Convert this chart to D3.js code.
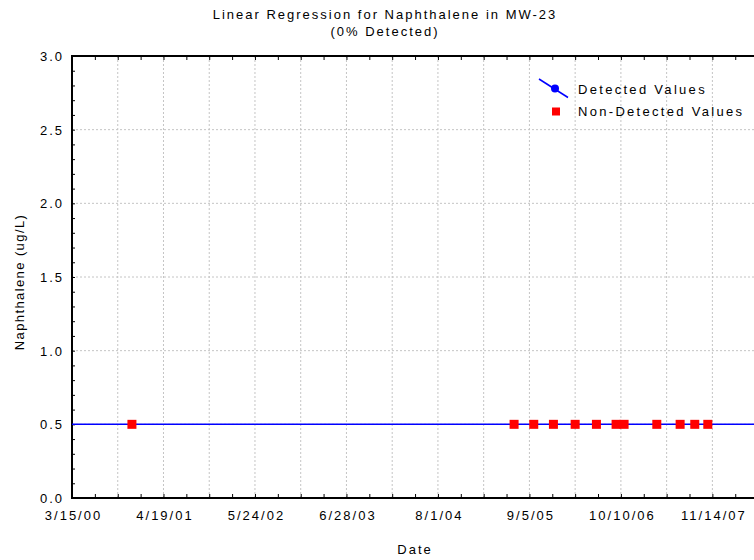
<!DOCTYPE html>
<html>
<head>
<meta charset="utf-8">
<script src="https://cdn.jsdelivr.net/npm/d3@7"></script>
<style>
  body { margin: 0; background: #fff; }
  text { font-family: "Liberation Sans", Arial, sans-serif; font-size: 13px; letter-spacing: 2px; fill: #000; }
</style>
</head>
<body>
<div id="chart"></div>
<script>
// Data
const sampleDates = ["12/2/00", "6/30/05", "9/24/05", "12/19/05", "3/24/06", "6/25/06",
  "9/19/06", "10/24/06", "3/16/07", "6/26/07", "8/29/07", "10/25/07"];
const sampleValues = [0.5, 0.5, 0.5, 0.5, 0.5, 0.5, 0.5, 0.5, 0.5, 0.5, 0.5, 0.5];
const regressionIntercept = 0.5;
const regressionSlope = 0; // per day
const xTickLabels = ["3/15/00", "4/19/01", "5/24/02", "6/28/03", "8/1/04", "9/5/05", "10/10/06", "11/14/07"];
const yTicks = [0, 0.5, 1.0, 1.5, 2.0, 2.5, 3.0];
const legendLabels = ["Detected Values", "Non-Detected Values"];

const WIDTH = 754;
const HEIGHT = 560;
const margin = { top: 56, right: 0, bottom: 62, left: 72 };
const width = WIDTH - margin.left - margin.right;
const height = HEIGHT - margin.top - margin.bottom;

const parse = d3.utcParse("%m/%d/%y");
const start = parse("3/15/00");
const end = parse("5/14/08");

const svg = d3.select("#chart").append("svg")
  .attr("width", WIDTH)
  .attr("height", HEIGHT);

const g = svg.append("g")
  .attr("transform", `translate(${margin.left}, ${margin.top})`);

const x = d3.scaleUtc().domain([start, end]).range([0, width]);
const y = d3.scaleLinear().domain([0, 3]).range([height, 0]);

// gridlines every 200 days, minor ticks every 100 days
const gridDays = d3.range(200, 3000, 200).map(d => d3.utcDay.offset(start, d));
const minorDays = d3.range(100, 3000, 100).map(d => d3.utcDay.offset(start, d));
const yMinor = d3.range(0.1, 3.0, 0.1);

g.append("g").selectAll("line")
  .data(gridDays)
  .join("line")
  .attr("x1", d => x(d)).attr("x2", d => x(d))
  .attr("y1", 0).attr("y2", height)
  .attr("stroke", "#c4c4c4")
  .attr("stroke-dasharray", "2,2");

g.append("g").selectAll("line")
  .data(yTicks.filter(d => d > 0 && d < 3))
  .join("line")
  .attr("x1", 0).attr("x2", width)
  .attr("y1", d => y(d)).attr("y2", d => y(d))
  .attr("stroke", "#c4c4c4")
  .attr("stroke-dasharray", "2,2");

// bottom axis
const xAxis = g.append("g")
  .attr("transform", `translate(0, ${height})`)
  .call(d3.axisBottom(x).tickValues(minorDays).tickSize(-4).tickFormat(""));
xAxis.select(".domain").remove();
xAxis.selectAll("line").attr("stroke", "#000");

const xLab = g.append("g")
  .attr("transform", `translate(0, ${height})`)
  .call(d3.axisBottom(x).tickValues(xTickLabels.map(parse)).tickSize(0).tickPadding(0)
    .tickFormat(d3.utcFormat("%-m/%-d/%y")));
xLab.select(".domain").remove();
xLab.selectAll("text")
  .attr("dy", null)
  .attr("y", 22)
  .attr("dx", 1)
  .attr("font-size", null)
  .attr("font-family", null);

// top axis ticks
const xTop = g.append("g")
  .call(d3.axisTop(x).tickValues(minorDays).tickSize(-4).tickFormat(""));
xTop.select(".domain").remove();
xTop.selectAll("line").attr("stroke", "#000");

// left axis
const yAxisMinor = g.append("g")
  .call(d3.axisLeft(y).tickValues(yMinor).tickSize(-3).tickFormat(""));
yAxisMinor.select(".domain").remove();
yAxisMinor.selectAll("line").attr("stroke", "#000");

const yAxis = g.append("g")
  .call(d3.axisLeft(y).tickValues(yTicks).tickSize(0).tickPadding(8)
    .tickFormat(d3.format(".1f")));
yAxis.select(".domain").remove();
yAxis.selectAll("text")
  .attr("dy", "0.35em")
  .attr("font-size", null)
  .attr("font-family", null);

// frame: left and bottom and top
g.append("path")
  .attr("d", `M${width},0H0V${height}H${width}`)
  .attr("fill", "none")
  .attr("stroke", "#000")
  .attr("stroke-width", 2);

// regression line
const lineData = [start, end].map(d => ({
  date: d,
  value: regressionIntercept + regressionSlope * d3.utcDay.count(start, d)
}));
g.append("path")
  .datum(lineData)
  .attr("d", d3.line().x(d => x(d.date)).y(d => y(d.value)))
  .attr("fill", "none")
  .attr("stroke", "#0000ff")
  .attr("stroke-width", 1.5);

// non-detected points
const points = sampleDates.map((d, i) => ({ date: parse(d), value: sampleValues[i] }));
const sq = 9;
g.append("g").selectAll("rect")
  .data(points)
  .join("rect")
  .attr("x", d => x(d.date) - sq / 2)
  .attr("y", d => y(d.value) - sq / 2)
  .attr("width", sq)
  .attr("height", sq)
  .attr("fill", "#ff0000");

// legend
const legend = svg.append("g").attr("transform", "translate(539, 79)");
legend.append("line")
  .attr("x1", 0).attr("y1", 0).attr("x2", 29).attr("y2", 18.5)
  .attr("stroke", "#0000ff").attr("stroke-width", 1.5);
legend.append("circle")
  .attr("cx", 16).attr("cy", 9.5).attr("r", 4)
  .attr("fill", "#0000ff");
legend.append("rect")
  .attr("x", 13).attr("y", 28.5).attr("width", 8).attr("height", 8)
  .attr("fill", "#ff0000");
legend.selectAll("text.lab")
  .data(legendLabels)
  .join("text")
  .attr("class", "lab")
  .attr("x", 39)
  .attr("y", (d, i) => 15 + i * 22)
  .style("letter-spacing", "2.3px")
  .text(d => d);

// titles
svg.append("text")
  .attr("x", 385).attr("y", 19)
  .attr("text-anchor", "middle")
  .text("Linear Regression for Naphthalene in MW-23");
svg.append("text")
  .attr("x", 385).attr("y", 35.5)
  .attr("text-anchor", "middle")
  .text("(0% Detected)");

svg.append("text")
  .attr("x", 415).attr("y", 554)
  .attr("text-anchor", "middle")
  .text("Date");

svg.append("text")
  .attr("transform", "translate(24, 282) rotate(-90)")
  .attr("text-anchor", "middle")
  .style("letter-spacing", "1.4px")
  .text("Naphthalene (ug/L)");
</script>
</body>
</html>
